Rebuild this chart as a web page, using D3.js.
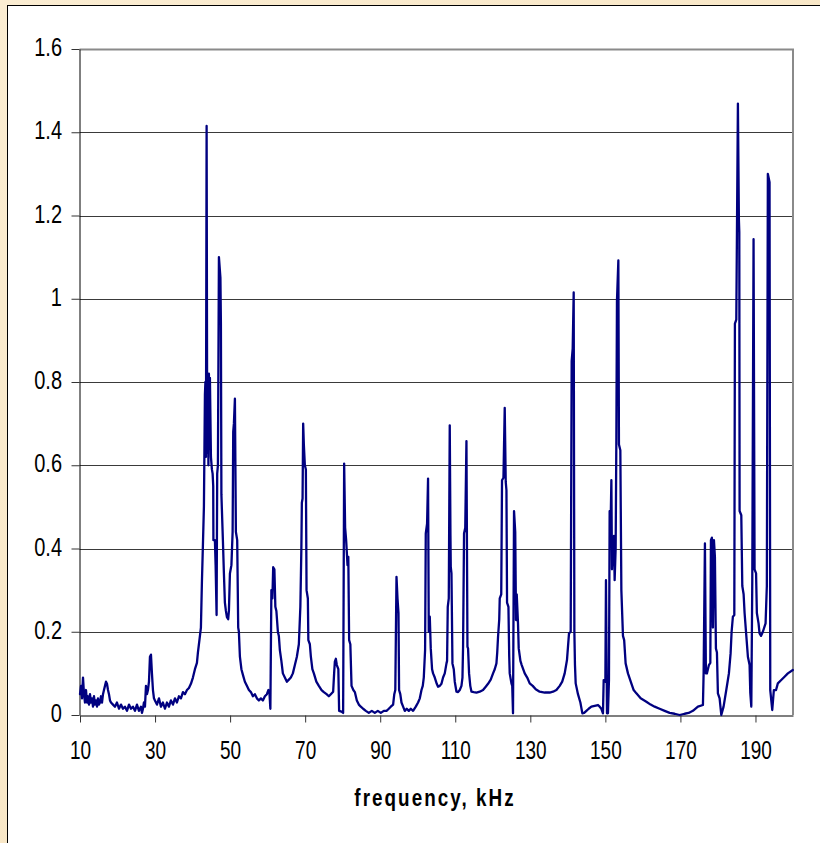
<!DOCTYPE html>
<html>
<head>
<meta charset="utf-8">
<script src="https://cdn.jsdelivr.net/npm/d3@7"></script>
<style>
  body { margin: 0; background: #f8e8c8; }
  svg { display: block; }
</style>
</head>
<body>
<div id="chart"></div>
<script>
// spectrum (kHz / amplitude)
var freqKHz = [
  10.00, 10.27, 10.53, 10.80, 11.07, 11.33, 11.60, 11.86, 12.13, 12.40,
  12.66, 12.93, 13.20, 13.46, 13.73, 13.99, 14.26, 14.53, 14.79, 15.06,
  15.33, 15.59, 15.86, 16.13, 16.39, 16.66, 16.92, 17.19, 17.46, 17.72,
  17.99, 18.26, 18.79, 19.32, 19.85, 20.39, 20.92, 21.45, 21.98, 22.52,
  23.05, 23.58, 24.11, 24.65, 25.18, 25.71, 26.24, 26.51, 26.78, 27.04,
  27.31, 27.58, 27.84, 28.11, 28.38, 28.64, 28.91, 29.17, 29.44, 29.71,
  29.97, 30.51, 31.04, 31.57, 32.10, 32.64, 33.17, 33.70, 34.23, 34.77,
  35.30, 35.83, 36.36, 36.90, 37.43, 37.96, 38.50, 39.03, 39.56, 40.09,
  40.63, 41.16, 41.42, 41.96, 42.22, 42.49, 42.76, 43.02, 43.29, 43.42,
  43.56, 43.74, 43.90, 44.09, 44.22, 44.35, 44.49, 44.62, 44.89, 45.15,
  45.34, 45.50, 45.55, 45.95, 46.14, 46.40, 46.56, 46.75, 47.02, 47.42,
  47.55, 47.68, 48.08, 48.35, 48.61, 48.88, 49.15, 49.49, 49.68, 49.95,
  50.35, 50.67, 50.83, 51.01, 51.28, 51.54, 51.89, 52.16, 52.34, 52.61,
  53.01, 53.49, 53.94, 54.47, 55.01, 55.54, 56.07, 56.60, 57.14, 57.67,
  58.20, 58.73, 59.27, 59.80, 60.20, 60.47, 60.73, 61.00, 61.27, 61.48,
  61.80, 62.06, 62.33, 62.73, 62.99, 63.26, 63.66, 64.06, 64.59, 65.13,
  65.66, 66.19, 66.72, 67.26, 67.79, 68.32, 68.72, 68.99, 69.12, 69.31,
  69.47, 69.65, 69.92, 70.19, 70.37, 70.72, 70.85, 71.25, 71.52, 71.92,
  72.32, 72.98, 73.65, 74.37, 74.98, 75.70, 76.31, 76.84, 77.46, 77.72,
  77.91, 78.18, 78.44, 78.84, 79.05, 79.69, 80.12, 80.39, 80.65, 80.92,
  81.29, 81.50, 81.72, 82.04, 82.36, 82.84, 83.24, 83.77, 84.30, 84.83,
  85.45, 86.16, 86.96, 87.76, 88.56, 89.36, 90.16, 90.96, 91.68, 92.29,
  92.82, 93.44, 93.75, 94.02, 94.34, 94.61, 94.87, 95.03, 95.35, 95.67,
  96.10, 96.55, 97.08, 97.62, 98.15, 98.76, 99.48, 100.09, 100.55, 101.00,
  101.34, 101.61, 101.96, 102.14, 102.49, 102.75, 102.94, 103.21, 103.47, 103.82,
  104.09, 104.54, 105.07, 105.42, 105.87, 106.32, 106.75, 107.20, 107.66, 107.82,
  108.00, 108.27, 108.53, 108.72, 108.80, 108.99, 109.25, 109.60, 109.87, 110.32,
  110.75, 111.20, 111.65, 111.92, 112.08, 112.34, 112.66, 112.98, 113.25, 113.41,
  113.68, 114.00, 114.32, 114.93, 115.65, 116.52, 117.40, 118.12, 118.73, 119.45,
  120.07, 120.52, 120.97, 121.18, 121.40, 121.72, 121.85, 122.25, 122.46, 122.84,
  123.18, 123.45, 123.64, 123.80, 124.17, 124.38, 124.51, 124.97, 125.18, 125.39,
  125.66, 125.98, 126.19, 126.38, 126.72, 126.91, 127.36, 127.71, 128.51, 129.17,
  129.84, 130.64, 131.44, 132.50, 133.83, 135.17, 136.05, 136.95, 137.83, 138.50,
  139.16, 139.77, 140.31, 140.76, 141.02, 141.29, 141.56, 141.74, 141.90, 142.09,
  142.70, 143.34, 143.87, 144.35, 144.94, 145.55, 146.27, 147.15, 148.03, 148.48,
  148.93, 149.36, 149.55, 150.00, 150.16, 150.43, 150.69, 150.96, 151.14, 151.33,
  151.60, 151.76, 151.94, 152.13, 152.29, 152.47, 152.74, 152.93, 153.09, 153.46,
  153.62, 153.99, 154.26, 154.69, 155.01, 155.40, 156.02, 156.92, 157.54, 158.26,
  159.40, 160.92, 162.06, 163.13, 164.46, 165.80, 167.13, 168.46, 169.79, 171.12,
  172.19, 173.33, 174.66, 176.00, 176.18, 176.53, 176.79, 177.06, 177.59, 177.97,
  178.13, 178.39, 178.66, 178.93, 179.19, 179.46, 179.73, 179.99, 180.44, 180.89,
  181.50, 182.22, 182.57, 182.92, 183.37, 183.64, 183.98, 184.36, 184.52, 184.89,
  185.32, 185.58, 185.69, 185.77, 186.22, 186.49, 186.84, 187.10, 187.56, 187.98,
  188.43, 188.62, 188.89, 189.15, 189.49, 189.76, 190.16, 190.37, 190.82, 191.09,
  191.49, 191.97, 192.69, 193.03, 193.30, 193.75, 193.94, 194.47, 194.90, 195.48,
  195.96, 196.87, 197.75, 198.63, 199.96
];
var amplitude = [
  0.05, 0.07, 0.04, 0.09, 0.05, 0.03, 0.06, 0.03, 0.045, 0.025,
  0.05, 0.03, 0.04, 0.02, 0.045, 0.025, 0.035, 0.02, 0.04, 0.025,
  0.03, 0.045, 0.03, 0.05, 0.06, 0.07, 0.08, 0.075, 0.06, 0.05,
  0.035, 0.03, 0.025, 0.02, 0.03, 0.015, 0.025, 0.015, 0.02, 0.01,
  0.025, 0.015, 0.02, 0.01, 0.025, 0.01, 0.02, 0.005, 0.015, 0.03,
  0.02, 0.07, 0.05, 0.06, 0.08, 0.14, 0.145, 0.1, 0.06, 0.04,
  0.035, 0.025, 0.04, 0.02, 0.03, 0.015, 0.03, 0.02, 0.035, 0.025,
  0.04, 0.03, 0.045, 0.04, 0.055, 0.05, 0.06, 0.065, 0.075, 0.09,
  0.11, 0.125, 0.15, 0.19, 0.21, 0.32, 0.41, 0.5, 0.77, 0.80,
  0.62, 1.415, 0.63, 0.81, 0.6, 0.82, 0.64, 0.81, 0.62, 0.59,
  0.58, 0.55, 0.42, 0.42, 0.36, 0.24, 0.58, 0.6, 1.10, 1.05,
  0.94, 0.53, 0.42, 0.34, 0.27, 0.25, 0.235, 0.23, 0.25, 0.34,
  0.36, 0.44, 0.68, 0.7, 0.76, 0.44, 0.42, 0.21, 0.2, 0.14,
  0.11, 0.094, 0.08, 0.07, 0.06, 0.055, 0.045, 0.05, 0.04, 0.035,
  0.04, 0.035, 0.045, 0.05, 0.06, 0.055, 0.015, 0.3, 0.28, 0.355,
  0.35, 0.26, 0.25, 0.2, 0.19, 0.156, 0.13, 0.1, 0.09, 0.08,
  0.085, 0.09, 0.1, 0.12, 0.14, 0.17, 0.26, 0.4, 0.51, 0.52,
  0.70, 0.65, 0.6, 0.59, 0.3, 0.28, 0.18, 0.17, 0.14, 0.11,
  0.1, 0.08, 0.07, 0.06, 0.055, 0.05, 0.045, 0.05, 0.056, 0.1,
  0.128, 0.135, 0.12, 0.11, 0.01, 0.008, 0.005, 0.604, 0.45, 0.42,
  0.36, 0.38, 0.18, 0.17, 0.07, 0.06, 0.055, 0.035, 0.025, 0.02,
  0.015, 0.01, 0.005, 0.01, 0.005, 0.01, 0.005, 0.01, 0.01, 0.015,
  0.02, 0.025, 0.05, 0.06, 0.332, 0.28, 0.245, 0.06, 0.05, 0.03,
  0.02, 0.01, 0.015, 0.01, 0.015, 0.01, 0.02, 0.03, 0.04, 0.06,
  0.07, 0.09, 0.156, 0.436, 0.46, 0.568, 0.2, 0.236, 0.16, 0.11,
  0.1, 0.09, 0.075, 0.068, 0.07, 0.075, 0.09, 0.1, 0.124, 0.13,
  0.26, 0.28, 0.696, 0.43, 0.356, 0.34, 0.124, 0.11, 0.08, 0.056,
  0.055, 0.06, 0.07, 0.09, 0.164, 0.436, 0.45, 0.658, 0.164, 0.16,
  0.1, 0.07, 0.056, 0.055, 0.054, 0.056, 0.06, 0.068, 0.075, 0.085,
  0.1, 0.11, 0.124, 0.15, 0.188, 0.23, 0.28, 0.29, 0.564, 0.57,
  0.738, 0.56, 0.54, 0.27, 0.26, 0.14, 0.1, 0.076, 0.07, 0.004,
  0.49, 0.44, 0.228, 0.29, 0.22, 0.16, 0.13, 0.12, 0.1, 0.09,
  0.076, 0.07, 0.062, 0.056, 0.054, 0.054, 0.056, 0.06, 0.07, 0.08,
  0.1, 0.132, 0.196, 0.2, 0.85, 0.88, 1.015, 0.2, 0.12, 0.076,
  0.05, 0.03, 0.004, 0.005, 0.01, 0.015, 0.02, 0.022, 0.024, 0.02,
  0.015, 0.004, 0.084, 0.08, 0.324, 0.004, 0.004, 0.084, 0.49, 0.42,
  0.564, 0.35, 0.42, 0.36, 0.43, 0.324, 0.4, 0.668, 0.995, 1.092,
  0.65, 0.636, 0.3, 0.19, 0.18, 0.124, 0.1, 0.076, 0.06, 0.052,
  0.04, 0.032, 0.025, 0.02, 0.015, 0.01, 0.005, 0.003, 0, 0.003,
  0.005, 0.01, 0.02, 0.024, 0.1, 0.412, 0.1, 0.1, 0.12, 0.125,
  0.42, 0.426, 0.21, 0.42, 0.38, 0.16, 0.15, 0.052, 0.04, 0,
  0.02, 0.06, 0.08, 0.1, 0.148, 0.2, 0.236, 0.24, 0.94, 0.95,
  1.469, 1.19, 1.16, 0.49, 0.48, 0.31, 0.29, 0.245, 0.19, 0.14,
  0.12, 0.053, 0.02, 0.324, 1.143, 0.35, 0.34, 0.245, 0.22, 0.196,
  0.19, 0.2, 0.22, 0.31, 1.3, 1.28, 0.06, 0.012, 0.06, 0.06,
  0.076, 0.084, 0.092, 0.1, 0.108
];
var xTicks = [10, 30, 50, 70, 90, 110, 130, 150, 170, 190];
var yTicks = [0, 0.2, 0.4, 0.6, 0.8, 1, 1.2, 1.4, 1.6];
var xTitle = "frequency, kHz";

var svgWidth = 820, svgHeight = 843;
var plotLeft = 79.5, plotRight = 793, plotTop = 49, plotBottom = 715;
var fontFamily = '"Liberation Sans", Arial, sans-serif';

var svg = d3.select('#chart').append('svg')
  .attr('width', svgWidth)
  .attr('height', svgHeight);

// beige page background + white chart panel
var grad = svg.append('defs').append('linearGradient')
  .attr('id', 'bg').attr('x1', 0).attr('y1', 0).attr('x2', 1).attr('y2', 1);
grad.append('stop').attr('offset', '0%').attr('stop-color', '#fbedd2');
grad.append('stop').attr('offset', '100%').attr('stop-color', '#f6e2bd');
svg.append('rect').attr('width', svgWidth).attr('height', svgHeight).attr('fill', 'url(#bg)');
svg.append('rect')
  .attr('x', 7.5).attr('y', 5.5)
  .attr('width', 830).attr('height', 850)
  .attr('fill', '#fff').attr('stroke', '#000').attr('stroke-width', 1);

var x = d3.scaleLinear().domain([10, 200]).range([plotLeft + 0.5, plotRight]);
var y = d3.scaleLinear().domain([0, 1.6]).range([plotBottom, plotTop]);

// gridlines
svg.append('g')
  .selectAll('line')
  .data(yTicks.filter(function(d) { return d > 0 && d < 1.6; }))
  .enter().append('line')
  .attr('x1', plotLeft).attr('x2', plotRight)
  .attr('y1', function(d) { return Math.round(y(d)) + 0.5; })
  .attr('y2', function(d) { return Math.round(y(d)) + 0.5; })
  .attr('stroke', '#3a3a3a')
  .attr('stroke-width', 1);

// plot area border (top + right)
svg.append('path')
  .attr('d', 'M' + plotLeft + ',' + (plotTop + 0.5) + 'H' + plotRight + 'V' + plotBottom)
  .attr('fill', 'none')
  .attr('stroke', '#8a8a8a')
  .attr('stroke-width', 2);

// axes
var xAxis = svg.append('g')
  .attr('transform', 'translate(0,' + (plotBottom + 0.5) + ')')
  .call(d3.axisBottom(x).tickValues(xTicks).tickSize(7).tickSizeOuter(0));
xAxis.attr('font-family', fontFamily).attr('font-size', null);
xAxis.select('.domain').attr('stroke', '#555').attr('stroke-width', 1.5);
xAxis.selectAll('.tick line').attr('stroke', '#333');
xAxis.selectAll('text')
  .attr('y', 0).attr('dy', 0)
  .attr('transform', 'translate(0,43) scale(0.76,1)')
  .style('font-size', '25px')
  .attr('fill', '#000');

var yAxis = svg.append('g')
  .attr('transform', 'translate(' + plotLeft + ',0)')
  .call(d3.axisLeft(y).tickValues(yTicks).tickSize(8).tickSizeOuter(0).tickFormat(d3.format('~g')));
yAxis.attr('font-family', fontFamily).attr('font-size', null);
yAxis.select('.domain').attr('stroke', '#000');
yAxis.selectAll('.tick line').attr('stroke', '#333');
yAxis.selectAll('text')
  .attr('x', 0).attr('dy', 0)
  .attr('transform', 'translate(-17.5,6.5) scale(0.8,1)')
  .style('font-size', '25px')
  .attr('fill', '#000');

// axis title
svg.append('text')
  .attr('transform', 'translate(435,806) scale(0.82,1)')
  .attr('text-anchor', 'middle')
  .attr('font-family', fontFamily)
  .attr('font-weight', 'bold')
  .attr('font-size', '23px')
  .attr('letter-spacing', '2.5px')
  .text(xTitle);

// the spectrum
var line = d3.line()
  .x(function(d) { return x(d[0]); })
  .y(function(d) { return y(d[1]); });

svg.append('path')
  .datum(d3.zip(freqKHz, amplitude))
  .attr('fill', 'none')
  .attr('stroke', '#000080')
  .attr('stroke-width', 2.3)
  .attr('stroke-linejoin', 'round')
  .attr('stroke-linecap', 'round')
  .attr('d', line);
</script>
</body>
</html>
